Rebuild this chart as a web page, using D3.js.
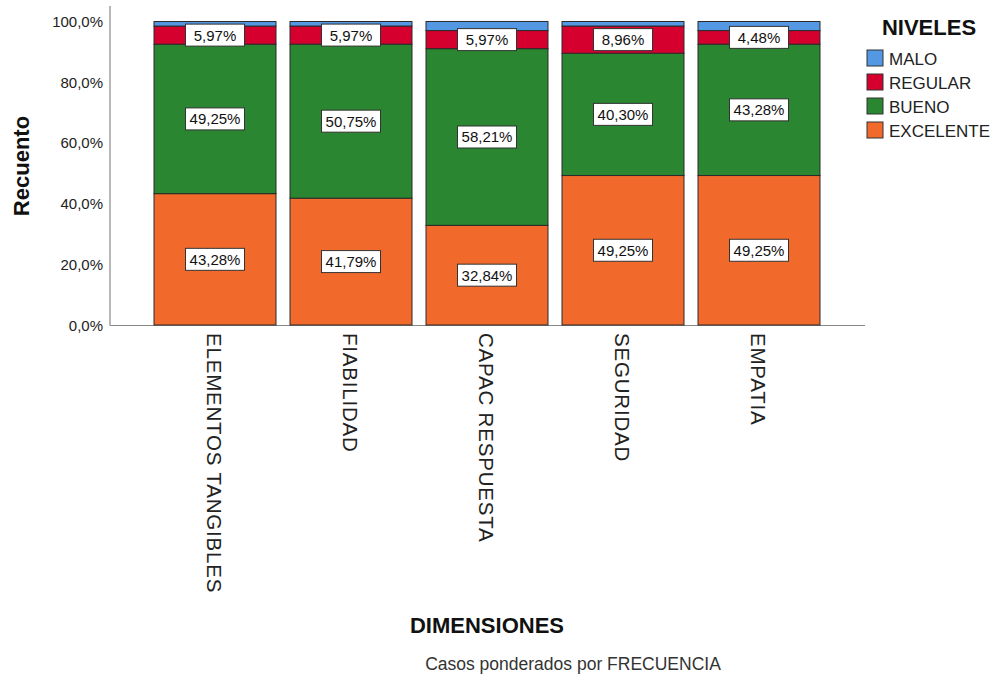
<!DOCTYPE html>
<html><head><meta charset="utf-8">
<script src="https://cdn.jsdelivr.net/npm/d3@7"></script>
<style>body{margin:0;background:#fff;}svg{display:block;font-family:"Liberation Sans",Arial,sans-serif;}</style>
</head><body>
<svg id="c" width="997" height="677"></svg>
<script>
const categories = ["ELEMENTOS TANGIBLES","FIABILIDAD","CAPAC RESPUESTA","SEGURIDAD","EMPATIA"];
const levels = ["EXCELENTE","BUENO","REGULAR","MALO"];
const excelente = [43.28, 41.79, 32.84, 49.25, 49.25];
const bueno     = [49.25, 50.75, 58.21, 40.30, 43.28];
const regular   = [5.97, 5.97, 5.97, 8.96, 4.48];
const malo      = [1.49, 1.49, 2.99, 1.49, 2.99];
const yTicks = [0,20,40,60,80,100];
const colors = {MALO:"#5497e3", REGULAR:"#d6002f", BUENO:"#2a8630", EXCELENTE:"#f26a2b"};
const legendOrder = ["MALO","REGULAR","BUENO","EXCELENTE"];

const svg = d3.select("#c");
const rows = categories.map((c,i)=>({cat:c, EXCELENTE:excelente[i], BUENO:bueno[i], REGULAR:regular[i], MALO:malo[i]}));
const stack = d3.stack().keys(levels)(rows);

const y = d3.scaleLinear().domain([0,100]).range([325,21.5]);
const x = d3.scaleBand().domain(categories).range([147,827]).paddingInner(0.103).paddingOuter(0.0515);

// axes lines
svg.append("line").attr("x1",110).attr("x2",110).attr("y1",6).attr("y2",325.5).attr("stroke","#888").attr("stroke-width",1.2);
svg.append("line").attr("x1",110).attr("x2",865).attr("y1",325.5).attr("y2",325.5).attr("stroke","#888").attr("stroke-width",1.2);

// y tick labels
svg.append("g").selectAll("text").data(yTicks).join("text")
  .attr("x",103).attr("y",d=>y(d)+5.5).attr("text-anchor","end")
  .attr("font-size",15).attr("fill","#222")
  .text(d=>d3.format(".1f")(d).replace(".",",")+"%");

// bars
const g = svg.append("g");
stack.forEach(s=>{
  g.append("g").selectAll("rect").data(s).join("rect")
    .attr("x",d=>x(d.data.cat)).attr("width",x.bandwidth())
    .attr("y",d=>y(d[1])).attr("height",d=>y(d[0])-y(d[1]))
    .attr("fill",colors[s.key]).attr("stroke","#2a2a2a").attr("stroke-width",1);
});

// value labels (all except MALO)
const fmt = v=>v.toFixed(2).replace(".",",")+"%";
stack.filter(s=>s.key!=="MALO").forEach(s=>{
  const lg = g.append("g").selectAll("g").data(s).join("g")
    .attr("transform",d=>`translate(${x(d.data.cat)+x.bandwidth()/2},${y((d[0]+d[1])/2)})`);
  lg.append("rect").attr("x",-29.5).attr("y",-11).attr("width",59).attr("height",22)
    .attr("fill","#fff").attr("stroke","#333").attr("stroke-width",1);
  lg.append("text").attr("text-anchor","middle").attr("y",5.5).attr("font-size",15).attr("fill","#111")
    .text(d=>fmt(d[1]-d[0]));
});

// x category labels rotated
svg.append("g").selectAll("text").data(categories).join("text")
  .attr("transform",d=>`translate(${x(d)+x.bandwidth()/2-8},333) rotate(90)`)
  .attr("font-size",20.5).attr("letter-spacing",0.8).attr("fill","#222").attr("text-anchor","start")
  .text(d=>d);

// axis titles
svg.append("text").attr("transform","translate(29,166) rotate(-90)").attr("text-anchor","middle")
  .attr("font-size",22).attr("font-weight","bold").attr("fill","#111").text("Recuento");
svg.append("text").attr("x",487).attr("y",633).attr("text-anchor","middle")
  .attr("font-size",22).attr("font-weight","bold").attr("fill","#111").text("DIMENSIONES");
svg.append("text").attr("x",573).attr("y",670).attr("text-anchor","middle")
  .attr("font-size",17.5).attr("fill","#333").text("Casos ponderados por FRECUENCIA");

// legend
svg.append("text").attr("x",929).attr("y",35).attr("text-anchor","middle")
  .attr("font-size",22).attr("font-weight","bold").attr("fill","#111").text("NIVELES");
const lg = svg.append("g").selectAll("g").data(legendOrder).join("g")
  .attr("transform",(d,i)=>`translate(867,${50+i*24})`);
lg.append("rect").attr("width",16).attr("height",16).attr("fill",d=>colors[d]).attr("stroke","#333").attr("stroke-width",1);
lg.append("text").attr("x",22).attr("y",15).attr("font-size",17).attr("fill","#222").text(d=>d);
</script>
</body></html>
